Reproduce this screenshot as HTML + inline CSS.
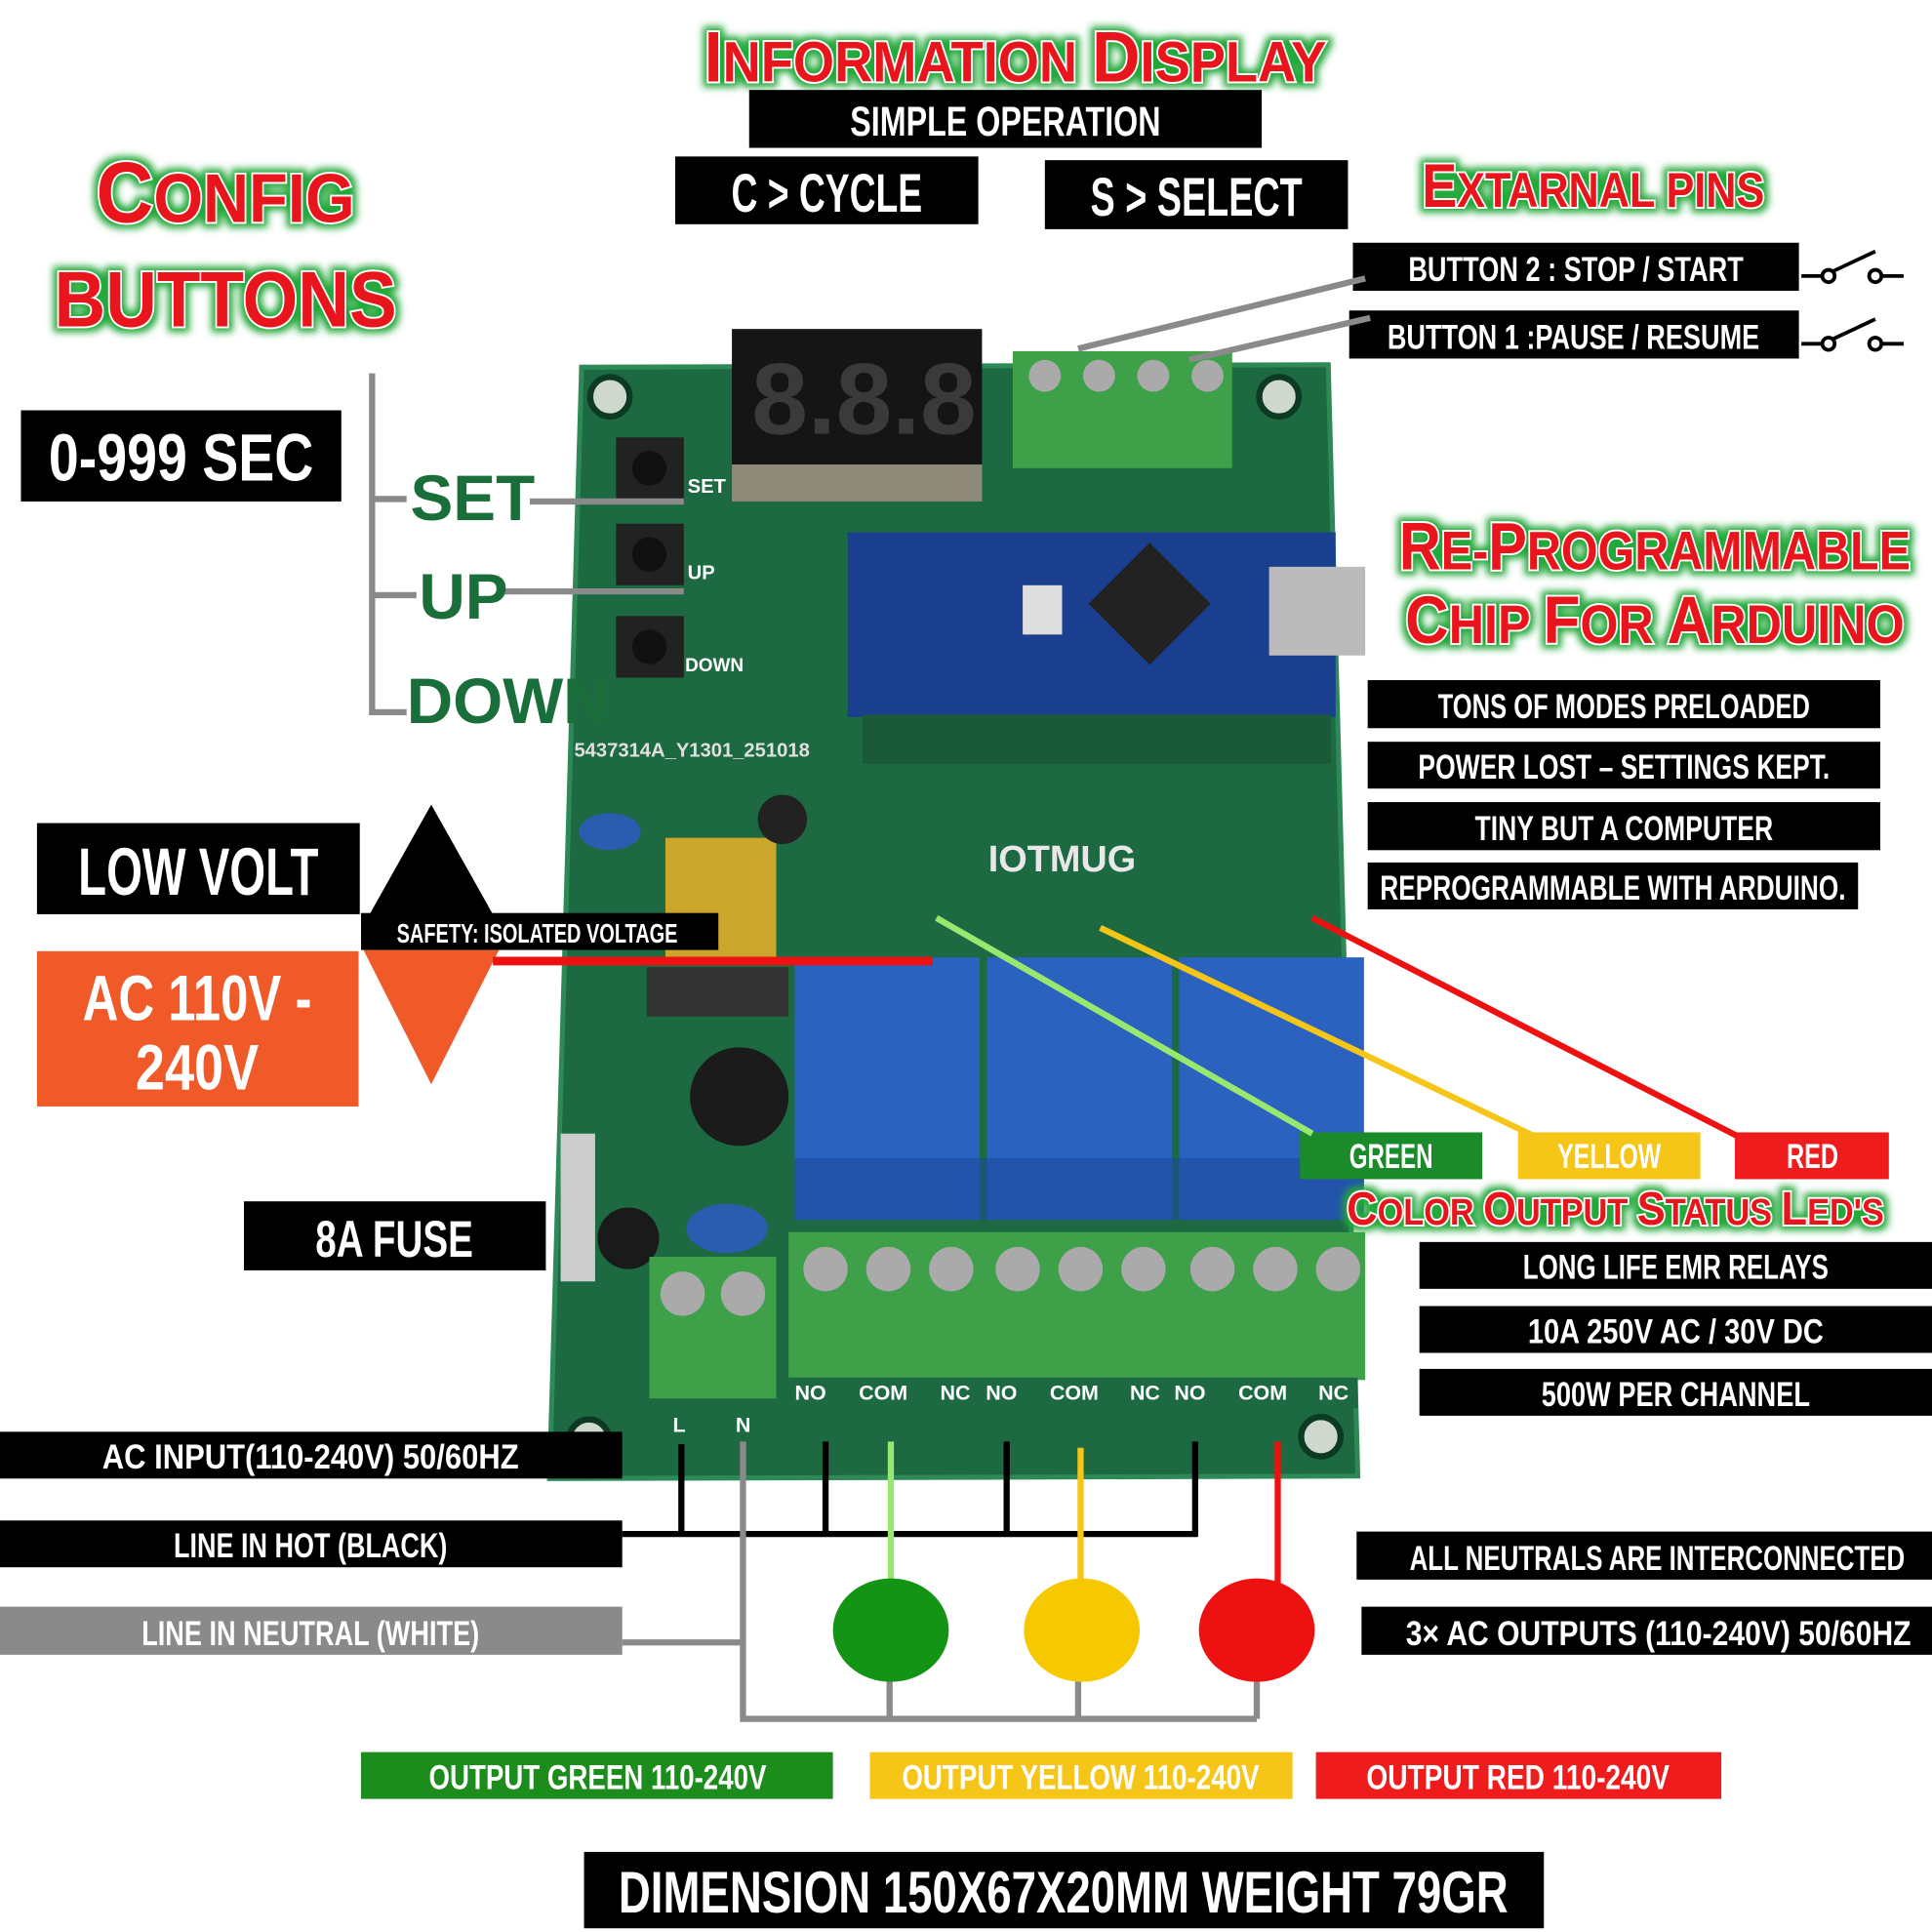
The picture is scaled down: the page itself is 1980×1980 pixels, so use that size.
<!DOCTYPE html>
<html><head><meta charset="utf-8"><style>
html,body{margin:0;padding:0;background:#fff}
svg{display:block}
text{font-family:"Liberation Sans",sans-serif;font-weight:bold}
.t{fill:#fff}
.ttl{fill:#e8141c;stroke:#fff;stroke-width:3;paint-order:stroke;filter:url(#glow)}
</style></head><body>
<svg width="1980" height="1980" viewBox="0 0 1568 1568" xmlns="http://www.w3.org/2000/svg">
<defs>
<filter id="glow" x="-10%" y="-30%" width="120%" height="160%">
<feMorphology in="SourceAlpha" operator="dilate" radius="3" result="d"/>
<feGaussianBlur in="d" stdDeviation="3" result="b"/>
<feFlood flood-color="#22a83a"/><feComposite in2="b" operator="in" result="g"/>
<feMerge><feMergeNode in="g"/><feMergeNode in="SourceGraphic"/></feMerge>
</filter>
</defs>
<rect width="1568" height="1568" fill="#fff"/>

<!-- PCB -->
<polygon points="472,298 1078,296 1102,1198 446,1200" fill="#1d6a42"/>
<polygon points="472,298 1078,296 1102,1198 446,1200" fill="none" stroke="#2d8a57" stroke-width="4"/>
<circle cx="495" cy="322" r="16" fill="#cfd8cf" stroke="#0c3a22" stroke-width="5"/>
<circle cx="1038" cy="322" r="16" fill="#cfd8cf" stroke="#0c3a22" stroke-width="5"/>
<circle cx="478" cy="1168" r="16" fill="#cfd8cf" stroke="#0c3a22" stroke-width="5"/>
<circle cx="1072" cy="1166" r="16" fill="#cfd8cf" stroke="#0c3a22" stroke-width="5"/>
<!-- display -->
<rect x="594" y="267" width="203" height="110" fill="#151515"/>
<rect x="594" y="377" width="203" height="30" fill="#8d8a7a"/>
<text x="610" y="352" font-size="82" fill="#3a3a3a" font-family="Liberation Mono">8.8.8</text>
<!-- top terminal -->
<rect x="822" y="285" width="178" height="95" fill="#3ea048"/>
<circle cx="848" cy="305" r="13" fill="#aaa"/><circle cx="892" cy="305" r="13" fill="#aaa"/><circle cx="936" cy="305" r="13" fill="#aaa"/><circle cx="980" cy="305" r="13" fill="#aaa"/>
<!-- buttons -->
<rect x="500" y="355" width="55" height="50" fill="#222"/><circle cx="527" cy="380" r="14" fill="#111"/>
<rect x="500" y="425" width="55" height="50" fill="#222"/><circle cx="527" cy="450" r="14" fill="#111"/>
<rect x="500" y="500" width="55" height="50" fill="#222"/><circle cx="527" cy="525" r="14" fill="#111"/>
<text x="558" y="400" font-size="16" class="t">SET</text><text x="558" y="470" font-size="16" class="t">UP</text><text x="556" y="545" font-size="15" class="t">DOWN</text>
<text x="466" y="614" font-size="16" fill="#e0e0e0" font-family="Liberation Mono">5437314A_Y1301_251018</text>
<!-- nano -->
<rect x="688" y="432" width="396" height="150" fill="#1a3f8e"/>
<rect x="898" y="455" width="70" height="70" fill="#222" transform="rotate(45 933 490)"/>
<rect x="1030" y="460" width="78" height="72" fill="#bbb"/>
<rect x="830" y="475" width="32" height="40" fill="#ddd"/>
<rect x="700" y="580" width="380" height="40" fill="#1a5a38"/>
<text x="862" y="707" font-size="30" text-anchor="middle" fill="#e8e8e8" font-weight="normal">IOTMUG</text>
<!-- power components -->
<rect x="540" y="680" width="90" height="100" fill="#caa62a"/>
<rect x="525" y="785" width="115" height="40" fill="#333"/>
<circle cx="600" cy="890" r="40" fill="#1b1b1b"/>
<ellipse cx="495" cy="675" rx="25" ry="15" fill="#2a5cb0"/>
<ellipse cx="590" cy="997" rx="33" ry="20" fill="#2a5cb0"/>
<circle cx="635" cy="665" r="20" fill="#222"/>
<rect x="455" y="920" width="28" height="120" fill="#ccc"/>
<circle cx="510" cy="1005" r="25" fill="#1a1a1a"/>
<!-- relays -->
<rect x="645" y="777" width="150" height="213" fill="#2b62c0"/>
<rect x="801" y="777" width="150" height="213" fill="#2b62c0"/>
<rect x="957" y="777" width="150" height="213" fill="#2b62c0"/>
<rect x="645" y="940" width="462" height="50" fill="#1e4b9c" opacity=".6"/>
<!-- bottom terminals -->
<rect x="640" y="1000" width="468" height="120" fill="#3ea048"/>
<rect x="527" y="1020" width="103" height="115" fill="#3ea048"/>
<g fill="#aaa">
<circle cx="670" cy="1030" r="18"/><circle cx="721" cy="1030" r="18"/><circle cx="772" cy="1030" r="18"/>
<circle cx="826" cy="1030" r="18"/><circle cx="877" cy="1030" r="18"/><circle cx="928" cy="1030" r="18"/>
<circle cx="984" cy="1030" r="18"/><circle cx="1035" cy="1030" r="18"/><circle cx="1086" cy="1030" r="18"/>
<circle cx="554" cy="1050" r="18"/><circle cx="603" cy="1050" r="18"/></g>
<rect x="640" y="1118" width="462" height="25" fill="#1d6a42"/>
<g font-size="17" class="t" font-weight="normal"><text x="645" y="1136">NO</text><text x="697" y="1136">COM</text><text x="763" y="1136">NC</text>
<text x="800" y="1136">NO</text><text x="852" y="1136">COM</text><text x="917" y="1136">NC</text>
<text x="953" y="1136">NO</text><text x="1005" y="1136">COM</text><text x="1070" y="1136">NC</text>
<text x="546" y="1162">L</text><text x="597" y="1162">N</text></g>

<!-- Titles -->
<text x="824" y="66" text-anchor="middle" class="ttl" font-size="46" textLength="505" lengthAdjust="spacingAndGlyphs"><tspan font-size="58">I</tspan>NFORMATION <tspan font-size="58">D</tspan>ISPLAY</text>
<text x="1293" y="168" text-anchor="middle" class="ttl" font-size="40" textLength="278" lengthAdjust="spacingAndGlyphs"><tspan font-size="50">E</tspan>XTARNAL PINS</text>
<text x="183" y="180" text-anchor="middle" class="ttl" font-size="56" textLength="210" lengthAdjust="spacingAndGlyphs"><tspan font-size="70">C</tspan>ONFIG</text>
<text x="183" y="265" text-anchor="middle" class="ttl" font-size="64" textLength="278" lengthAdjust="spacingAndGlyphs">BUTTONS</text>
<text x="1343" y="462" text-anchor="middle" class="ttl" font-size="44" textLength="415" lengthAdjust="spacingAndGlyphs"><tspan font-size="54">R</tspan>E-<tspan font-size="54">P</tspan>ROGRAMMABLE</text>
<text x="1343" y="522" text-anchor="middle" class="ttl" font-size="44" textLength="405" lengthAdjust="spacingAndGlyphs"><tspan font-size="54">C</tspan>HIP <tspan font-size="54">F</tspan>OR <tspan font-size="54">A</tspan>RDUINO</text>
<text x="1311" y="994" text-anchor="middle" class="ttl" font-size="30" textLength="436" lengthAdjust="spacingAndGlyphs"><tspan font-size="38">C</tspan>OLOR <tspan font-size="38">O</tspan>UTPUT <tspan font-size="38">S</tspan>TATUS <tspan font-size="38">L</tspan>ED'S</text>

<!-- black boxes -->
<g>
<rect x="608" y="73" width="416" height="47" fill="#000"/><text x="816" y="110" text-anchor="middle" class="t" font-size="34" textLength="252" lengthAdjust="spacingAndGlyphs">SIMPLE OPERATION</text>
<rect x="548" y="127" width="246" height="55" fill="#000"/><text x="671" y="172" text-anchor="middle" class="t" font-size="44" textLength="155" lengthAdjust="spacingAndGlyphs">C &gt; CYCLE</text>
<rect x="848" y="130" width="246" height="56" fill="#000"/><text x="971" y="175" text-anchor="middle" class="t" font-size="44" textLength="172" lengthAdjust="spacingAndGlyphs">S &gt; SELECT</text>
<rect x="1098" y="197" width="362" height="39" fill="#000"/><text x="1279" y="228" text-anchor="middle" class="t" font-size="28" textLength="272" lengthAdjust="spacingAndGlyphs">BUTTON 2 : STOP / START</text>
<rect x="1095" y="252" width="365" height="39" fill="#000"/><text x="1277" y="283" text-anchor="middle" class="t" font-size="28" textLength="302" lengthAdjust="spacingAndGlyphs">BUTTON 1 :PAUSE / RESUME</text>
<rect x="17" y="333" width="260" height="74" fill="#000"/><text x="147" y="390" text-anchor="middle" class="t" font-size="54" textLength="215" lengthAdjust="spacingAndGlyphs">0-999 SEC</text>
<rect x="1110" y="552" width="416" height="39" fill="#000"/><text x="1318" y="583" text-anchor="middle" class="t" font-size="28" textLength="302" lengthAdjust="spacingAndGlyphs">TONS OF MODES PRELOADED</text>
<rect x="1110" y="602" width="416" height="38" fill="#000"/><text x="1318" y="632" text-anchor="middle" class="t" font-size="28" textLength="334" lengthAdjust="spacingAndGlyphs">POWER LOST – SETTINGS KEPT.</text>
<rect x="1110" y="651" width="416" height="39" fill="#000"/><text x="1318" y="682" text-anchor="middle" class="t" font-size="28" textLength="242" lengthAdjust="spacingAndGlyphs">TINY BUT A COMPUTER</text>
<rect x="1110" y="700" width="398" height="38" fill="#000"/><text x="1309" y="730" text-anchor="middle" class="t" font-size="28" textLength="378" lengthAdjust="spacingAndGlyphs">REPROGRAMMABLE WITH ARDUINO.</text>
<rect x="30" y="668" width="262" height="74" fill="#000"/><text x="161" y="726" text-anchor="middle" class="t" font-size="54" textLength="195" lengthAdjust="spacingAndGlyphs">LOW VOLT</text>
<polygon points="350,653 300,742 400,742" fill="#000"/>
<rect x="30" y="772" width="261" height="126" fill="#f05a28"/>
<text x="160" y="828" text-anchor="middle" class="t" font-size="52" textLength="186" lengthAdjust="spacingAndGlyphs">AC 110V -</text>
<text x="160" y="884" text-anchor="middle" class="t" font-size="52" textLength="100" lengthAdjust="spacingAndGlyphs">240V</text>
<polygon points="295,771 405,771 350,880" fill="#f05a28"/>
<rect x="293" y="741" width="290" height="30" fill="#000"/><text x="436" y="765" text-anchor="middle" class="t" font-size="22" textLength="228" lengthAdjust="spacingAndGlyphs">SAFETY: ISOLATED VOLTAGE</text>
<rect x="198" y="975" width="245" height="56" fill="#000"/><text x="320" y="1020" text-anchor="middle" class="t" font-size="42" textLength="128" lengthAdjust="spacingAndGlyphs">8A FUSE</text>
<rect x="1055" y="919" width="148" height="38" fill="#1a8a2a"/><text x="1129" y="948" text-anchor="middle" class="t" font-size="28" textLength="68" lengthAdjust="spacingAndGlyphs">GREEN</text>
<rect x="1232" y="919" width="148" height="38" fill="#f5c518"/><text x="1306" y="948" text-anchor="middle" class="t" font-size="28" textLength="84" lengthAdjust="spacingAndGlyphs">YELLOW</text>
<rect x="1408" y="919" width="125" height="38" fill="#ee1c1c"/><text x="1471" y="948" text-anchor="middle" class="t" font-size="28" textLength="42" lengthAdjust="spacingAndGlyphs">RED</text>
<rect x="1152" y="1008" width="416" height="38" fill="#000"/><text x="1360" y="1038" text-anchor="middle" class="t" font-size="28" textLength="248" lengthAdjust="spacingAndGlyphs">LONG LIFE EMR RELAYS</text>
<rect x="1152" y="1060" width="416" height="38" fill="#000"/><text x="1360" y="1090" text-anchor="middle" class="t" font-size="28" textLength="240" lengthAdjust="spacingAndGlyphs">10A 250V AC / 30V DC</text>
<rect x="1152" y="1111" width="416" height="38" fill="#000"/><text x="1360" y="1141" text-anchor="middle" class="t" font-size="28" textLength="218" lengthAdjust="spacingAndGlyphs">500W PER CHANNEL</text>
<rect x="0" y="1162" width="505" height="38" fill="#000"/><text x="252" y="1192" text-anchor="middle" class="t" font-size="28" textLength="338" lengthAdjust="spacingAndGlyphs">AC INPUT(110-240V) 50/60HZ</text>
<rect x="0" y="1234" width="505" height="38" fill="#000"/><text x="252" y="1264" text-anchor="middle" class="t" font-size="28" textLength="222" lengthAdjust="spacingAndGlyphs">LINE IN HOT (BLACK)</text>
<rect x="0" y="1304" width="505" height="39" fill="#8a8a8a"/><text x="252" y="1335" text-anchor="middle" class="t" font-size="28" textLength="274" lengthAdjust="spacingAndGlyphs">LINE IN NEUTRAL (WHITE)</text>
<rect x="1101" y="1243" width="467" height="39" fill="#000"/><text x="1345" y="1274" text-anchor="middle" class="t" font-size="28" textLength="402" lengthAdjust="spacingAndGlyphs">ALL NEUTRALS ARE INTERCONNECTED</text>
<rect x="1105" y="1304" width="463" height="39" fill="#000"/><text x="1346" y="1335" text-anchor="middle" class="t" font-size="28" textLength="410" lengthAdjust="spacingAndGlyphs">3× AC OUTPUTS (110-240V) 50/60HZ</text>
<rect x="293" y="1422" width="383" height="38" fill="#1c8c1c"/><text x="485" y="1452" text-anchor="middle" class="t" font-size="28" textLength="274" lengthAdjust="spacingAndGlyphs">OUTPUT  GREEN 110-240V</text>
<rect x="706" y="1422" width="343" height="38" fill="#f5c518"/><text x="877" y="1452" text-anchor="middle" class="t" font-size="28" textLength="290" lengthAdjust="spacingAndGlyphs">OUTPUT  YELLOW 110-240V</text>
<rect x="1068" y="1422" width="329" height="38" fill="#ee1c1c"/><text x="1232" y="1452" text-anchor="middle" class="t" font-size="28" textLength="246" lengthAdjust="spacingAndGlyphs">OUTPUT  RED 110-240V</text>
<rect x="474" y="1503" width="779" height="62" fill="#000"/><text x="863" y="1552" text-anchor="middle" class="t" font-size="48" textLength="722" lengthAdjust="spacingAndGlyphs">DIMENSION 150X67X20MM  WEIGHT 79GR</text>
</g>

<!-- config bracket -->
<g stroke="#8a8a8a" stroke-width="5" fill="none">
<polyline points="302,303 302,578 330,578"/>
<line x1="302" y1="405" x2="330" y2="405"/><line x1="302" y1="483" x2="338" y2="483"/>
<line x1="430" y1="407" x2="555" y2="407"/><line x1="408" y1="480" x2="555" y2="480"/>
<line x1="875" y1="283" x2="1108" y2="226"/><line x1="965" y1="292" x2="1112" y2="258"/>
</g>
<g fill="#1a6e3a" font-weight="normal">
<text x="333" y="422" font-size="52">SET</text><text x="340" y="502" font-size="52">UP</text><text x="330" y="587" font-size="52">DOWN</text>
</g>
<!-- switches -->
<g stroke="#000" stroke-width="3" fill="none">
<line x1="1462" y1="224" x2="1478" y2="224"/><circle cx="1484" cy="224" r="5"/><line x1="1488" y1="220" x2="1522" y2="204"/><circle cx="1522" cy="224" r="5"/><line x1="1527" y1="224" x2="1545" y2="224"/>
<line x1="1462" y1="279" x2="1478" y2="279"/><circle cx="1484" cy="279" r="5"/><line x1="1488" y1="275" x2="1522" y2="259"/><circle cx="1522" cy="279" r="5"/><line x1="1527" y1="279" x2="1545" y2="279"/>
</g>
<!-- colored leader lines -->
<line x1="400" y1="780" x2="757" y2="780" stroke="#ee1111" stroke-width="7"/>
<line x1="760" y1="745" x2="1065" y2="920" stroke="#98e870" stroke-width="5"/>
<line x1="893" y1="753" x2="1245" y2="922" stroke="#f5c518" stroke-width="5"/>
<line x1="1065" y1="745" x2="1410" y2="922" stroke="#ee1111" stroke-width="5"/>
<!-- wiring -->
<g stroke="#000" stroke-width="5" fill="none">
<line x1="553" y1="1172" x2="553" y2="1245"/><line x1="670" y1="1170" x2="670" y2="1245"/>
<line x1="817" y1="1170" x2="817" y2="1245"/><line x1="970" y1="1170" x2="970" y2="1247"/>
<line x1="505" y1="1245" x2="972" y2="1245"/>
</g>
<g stroke="#8a8a8a" stroke-width="5" fill="none">
<polyline points="603,1170 603,1395 1020,1395"/><line x1="505" y1="1333" x2="603" y2="1333"/>
<line x1="722" y1="1355" x2="722" y2="1395"/><line x1="875" y1="1355" x2="875" y2="1395"/><line x1="1020" y1="1355" x2="1020" y2="1395"/>
</g>
<line x1="723" y1="1170" x2="723" y2="1285" stroke="#98e870" stroke-width="5"/>
<line x1="877" y1="1175" x2="877" y2="1285" stroke="#f5c518" stroke-width="5"/>
<line x1="1037" y1="1170" x2="1037" y2="1290" stroke="#ee1111" stroke-width="5"/>
<ellipse cx="723" cy="1323" rx="47" ry="42" fill="#149414"/>
<ellipse cx="878" cy="1323" rx="47" ry="42" fill="#f5c800"/>
<ellipse cx="1020" cy="1323" rx="47" ry="42" fill="#ee1111"/>
</svg>
</body></html>
